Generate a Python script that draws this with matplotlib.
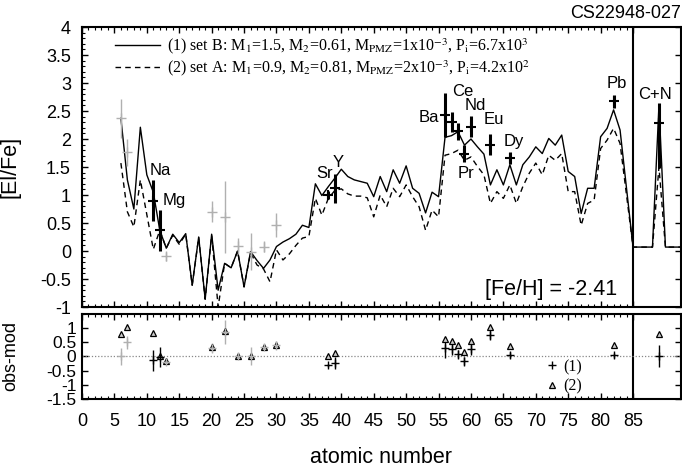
import numpy as np
import matplotlib.pyplot as plt
from matplotlib.ticker import FixedLocator, MultipleLocator
from matplotlib.lines import Line2D

plt.rcParams['font.family'] = 'Liberation Sans'
plt.rcParams['mathtext.fontset'] = 'stix'

# model curves, [El/Fe] vs atomic number (C+N drawn at 89, right of the divider)
z_mod = list(range(6, 84)) + [85, 88, 89, 90, 93]
mod_B = [2.37, 1.27, 0.75, 2.21, 1.36, 1.05, 0.37, 0.05, 0.30, 0.15,
         0.31, -0.61, 0.25, -0.86, 0.30, -0.70, -0.22, -0.30, 0.00, -0.64,
         -0.01, -0.17, -0.31, -0.16, 0.08, 0.16, 0.22, 0.30, 0.46, 0.42,
         1.20, 0.99, 1.15, 1.30, 1.46, 1.33, 1.27, 1.24, 1.21, 0.97,
         1.33, 1.06, 1.45, 1.21, 1.52, 1.12, 1.03, 0.68, 1.05, 0.97,
         2.03, 2.06, 2.13, 1.89, 2.00, 1.86, 1.73, 1.18, 1.45, 1.18,
         1.54, 1.18, 1.54, 1.68, 1.86, 1.74, 2.01, 1.89, 2.07, 1.42,
         1.33, 0.67, 1.12, 1.12, 2.04, 2.19, 2.52, 2.16,
         0.07, 0.07, 2.60, 0.07, 0.07]
mod_A = [1.57, 0.70, 0.43, 1.27, 0.65, 0.03, 0.37, 0.05, 0.28, 0.12,
         0.30, -0.61, 0.24, -0.86, 0.28, -1.00, -0.22, -0.30, 0.00, -0.64,
         -0.03, -0.25, -0.32, -0.55, 0.02, -0.16, -0.05, 0.10, 0.23, 0.26,
         0.94, 0.64, 0.94, 1.08, 1.11, 1.02, 0.98, 0.98, 0.95, 0.61,
         1.00, 0.79, 1.12, 0.97, 1.18, 0.97, 0.79, 0.37, 0.73, 0.61,
         1.71, 1.74, 1.80, 1.62, 1.68, 1.51, 1.36, 0.85, 1.06, 0.94,
         1.18, 0.85, 1.15, 1.39, 1.57, 1.36, 1.71, 1.62, 1.74, 1.06,
         1.06, 0.46, 0.85, 0.91, 1.83, 1.98, 2.19, 1.92,
         0.07, 0.07, 1.50, 0.07, 0.07]

# observations (black = measured with models, gray = others)
z_blk = [11, 12, 38, 39, 56, 57, 58, 59, 60, 63, 66, 82, 89]
y_blk = [0.90, 0.37, 1.00, 1.12, 2.43, 2.31, 2.14, 1.74, 2.22, 1.90, 1.66, 2.67, 2.28]
e_blk_lo = [0.37, 0.37, 0.07, 0.26, 0.39, 0.18, 0.15, 0.15, 0.19, 0.19, 0.10, 0.12, 0.80]
e_blk_hi = [0.37, 0.37, 0.07, 0.26, 0.39, 0.18, 0.15, 0.15, 0.19, 0.19, 0.10, 0.12, 0.36]
z_gry = [6, 7, 13, 20, 22, 24, 26, 28, 30]
y_gry = [2.37, 1.76, -0.09, 0.70, 0.61, 0.09, -0.01, 0.08, 0.46]
e_gry = [0.35, 0.24, 0.08, 0.19, 0.64, 0.15, 0.33, 0.10, 0.21]

# element labels
lab_txt = ['Na', 'Mg', 'Sr', 'Y', 'Ba', 'Ce', 'Nd', 'Eu', 'Pr', 'Dy', 'Pb', 'C+N']
lab_z = [10.5, 12.5, 36.1, 38.6, 52.0, 57.1, 59.0, 62.0, 58.0, 65.0, 81.0, 85.8]
lab_y = [1.43, 0.90, 1.39, 1.58, 2.39, 2.85, 2.59, 2.34, 1.39, 1.96, 3.00, 2.79]

# obs - model residuals
r1_blk = [-0.14, -0.02, -0.31, -0.23, 0.30, 0.24, 0.07, -0.18, 0.24, 0.76, 0.05, 0.03, 0.01]
r1_blk_e = [0.37, 0.35, 0.05, 0.20, 0.37, 0.18, 0.15, 0.15, 0.19, 0.19, 0.10, 0.10, 0.40]
r1_gry = [0.00, 0.49, -0.21, 0.30, 0.86, 0.01, 0.01, 0.33, 0.38]
r1_gry_e = [0.30, 0.23, 0.06, 0.17, 0.42, 0.12, 0.30, 0.06, 0.17]
z_r2 = [6, 7, 11, 12, 13, 20, 22, 24, 26, 28, 30, 38, 39,
        56, 57, 58, 59, 60, 63, 66, 82, 89]
r2 = [0.78, 1.03, 0.80, 0.00, -0.18, 0.33, 0.90, 0.01, 0.01, 0.33, 0.38, 0.00, 0.13,
      0.61, 0.55, 0.38, 0.15, 0.55, 1.02, 0.37, 0.39, 0.78]

gray = '#b0b0b0'

fig = plt.figure(figsize=(6.82, 4.69), dpi=100)
ax = fig.add_axes([82/682, 1-307/469, 599/682, 280/469])
ax2 = fig.add_axes([82/682, 1-399/469, 599/682, 85.5/469])

def style(a):
    for s in a.spines.values():
        s.set_linewidth(1.5)
    a.set_xlim(0, 92.4)
    a.xaxis.set_major_locator(FixedLocator(np.arange(0, 86, 5)))
    a.xaxis.set_minor_locator(FixedLocator(np.arange(0, 86, 1)))
    a.tick_params(which='both', direction='in', top=True, right=True, labelsize=13)
    a.tick_params(which='major', length=4, width=1)
    a.tick_params(which='minor', length=2, width=0.8, right=False)
    a.tick_params(axis='y', pad=8)
    a.tick_params(axis='x', pad=10)
    a.axvline(85, color='k', lw=1.5)

# main panel
style(ax)
l1, = ax.plot(z_mod, mod_B, 'k-', lw=1.0)
l2, = ax.plot(z_mod, mod_A, 'k--', lw=1.0, dashes=(4, 3))
ax.errorbar(z_gry, y_gry, yerr=e_gry, fmt='+', color=gray, ms=7, mew=1, lw=1, capsize=0)
ax.errorbar(z_blk, y_blk, yerr=[e_blk_lo, e_blk_hi], fmt='+', color='k', ms=7, mew=1.5,
            lw=2.2, capsize=0)
for t, zz, yy in zip(lab_txt, lab_z, lab_y):
    ax.text(zz, yy, t, fontsize=12, ha='left', va='center')
ax.set_ylim(-1, 4)
ax.yaxis.set_minor_locator(MultipleLocator(0.1))
ax.set_yticks(np.arange(-1, 4.01, 0.5))
ax.set_yticklabels(['-1', '-0.5', '0', '0.5', '1', '1.5', '2', '2.5', '3', '3.5', '4'])
ax.tick_params(axis='x', labelbottom=False)
ax.set_ylabel('[El/Fe]', fontsize=15.5)
ax.yaxis.set_label_coords(-0.103, 0.5)
ax.text(0.893, 0.061, '[Fe/H] = -2.41', transform=ax.transAxes, fontsize=15.5,
        ha='right', va='center')
leg = ax.legend([l1, l2],
                [r'(1) set B: M$_\mathrm{1}$=1.5, M$_\mathrm{2}$=0.61, M$_\mathrm{PMZ}$=1x10$^\mathrm{-3}$, P$_\mathrm{i}$=6.7x10$^\mathrm{3}$',
                 r'(2) set A: M$_\mathrm{1}$=0.9, M$_\mathrm{2}$=0.81, M$_\mathrm{PMZ}$=2x10$^\mathrm{-3}$, P$_\mathrm{i}$=4.2x10$^\mathrm{2}$'],
                loc='upper left', bbox_to_anchor=((115-82)/599, (307-36)/280),
                frameon=False, borderpad=0, borderaxespad=0, handlelength=2.8,
                handletextpad=0.45, labelspacing=0.15,
                prop={'family': 'Liberation Serif', 'size': 11.5})
fig.text(681/682, 1-13/469, 'CS22948-027', fontsize=13, ha='right', va='center')

# residual panel
style(ax2)
ax2.axhline(0, color='#888888', lw=0.9, ls=(0, (1, 1.5)))
ax2.errorbar(z_gry, r1_gry, yerr=r1_gry_e, fmt='+', color=gray, ms=6, mew=1, lw=1, capsize=0)
ax2.errorbar(z_blk, r1_blk, yerr=r1_blk_e, fmt='+', color='k', ms=6, mew=1, lw=1, capsize=0)
ax2.plot(z_r2, r2, '^', ms=4.5, mfc='#cccccc', mec='k', mew=0.9, ls='none')
ax2.set_ylim(-1.5, 1.5)
ax2.set_yticks([-1.5, -1, -0.5, 0, 0.5, 1])
ax2.set_yticklabels(['-1.5', '-1', '-0.5', '0', '0.5', '1'])
ax2.yaxis.set_minor_locator(MultipleLocator(0.5))
ax2.tick_params(axis='y', pad=4, labelsize=12.5)
ax2.set_xticklabels([str(v) for v in range(0, 86, 5)])
ax2.set_ylabel('obs-mod', fontsize=13)
ax2.yaxis.set_label_coords(-0.105, 0.5)
ax2.set_xlabel('atomic number', fontsize=15.5)
ax2.xaxis.set_label_coords(0.5, -0.56)
h1 = Line2D([], [], ls='none', marker='+', color='k', ms=6, mew=1)
h2 = Line2D([], [], ls='none', marker='^', ms=4.5, mfc='#cccccc', mec='k', mew=0.9)
ax2.legend([h1, h2], ['(1)', '(2)'], loc='upper left',
           bbox_to_anchor=((546-82)/599, (399-359)/85.5), frameon=False,
           borderpad=0, borderaxespad=0, handlelength=0.8, handletextpad=0.3,
           labelspacing=0.2, prop={'family': 'Liberation Serif', 'size': 11.5})

fig.savefig('out.png', dpi=100)
